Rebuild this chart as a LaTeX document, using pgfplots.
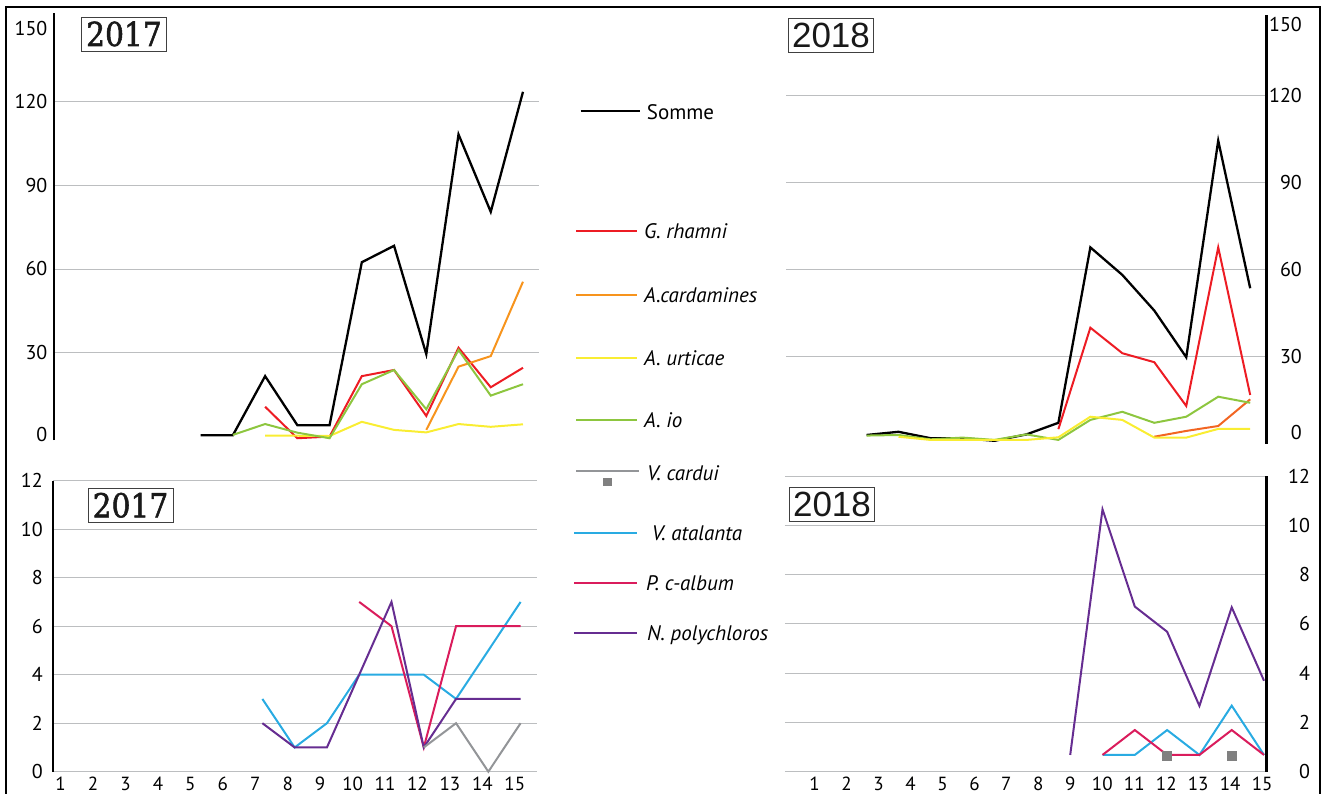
\documentclass[border=0pt]{standalone}
\usepackage{pgfplots}
\pgfplotsset{compat=1.18}
\usepackage{fontspec}
\setmainfont{PT Sans}
\newfontfamily\serifyear[FakeBold=1.6, FakeStretch=0.9]{DejaVu Serif}
\newfontfamily\sansyear{Liberation Sans}
\definecolor{rhamni}{HTML}{ED1C24}
\definecolor{cardA}{HTML}{F7941D}
\definecolor{cardB}{HTML}{F26522}
\definecolor{urticae}{HTML}{F9ED32}
\definecolor{io}{HTML}{8DC63F}
\definecolor{cardui}{HTML}{939598}
\definecolor{cardmark}{HTML}{808080}
\definecolor{atalanta}{HTML}{29ABE2}
\definecolor{calbum}{HTML}{DA1C5C}
\definecolor{poly}{HTML}{662D91}
\definecolor{gridgray}{HTML}{BCBEC0}
\definecolor{boxline}{HTML}{404040}
\pgfplotsset{
  panel/.style={scale only axis, clip=false, axis line style={draw=none},
    tick style={draw=none}, major tick length=0pt, ymajorgrids,
    grid style={line width=0.8pt, color=gridgray},
    tick label style={font=\fontsize{20}{24}\selectfont, inner sep=0pt},
    every axis plot/.append style={line width=2pt}},
}
\begin{document}
\begin{tikzpicture}
\path[use as bounding box] (0pt,0pt) rectangle (1323pt,794pt);
% outer frame
\draw[line width=2pt] (6.4pt,-5pt) -- (6.4pt,787.3pt) -- (1320pt,787.3pt) -- (1320pt,-5pt);

% ---------------- top left 2017 ----------------
\begin{axis}[panel, at={(54pt,353.8pt)}, anchor=south west, width=485.1pt, height=427.2pt,
  xmin=0.45, xmax=15.5, ymin=-1.5, ymax=151.9, xtick=\empty,
  ytick={30,60,90,120}, yticklabels={30,60,90,120},
  extra y ticks={0.4,146.5}, extra y tick labels={0,150}, extra y tick style={grid=none},
  yticklabel style={anchor=east, xshift=-6.5pt}]
\draw[line width=2.5pt] (rel axis cs:0,0) -- (rel axis cs:0,1);
\addplot[black, line width=2.3pt] coordinates {(5,0.3)(6,0.3)(7,21.5)(8,3.9)(9,3.9)(10,62.4)(11,68.3)(12,29.4)(13,108.3)(14,80.5)(15,123.6)};
\addplot[rhamni] coordinates {(7,10.5)(8,-0.8)(9,-0.2)(10,21.5)(11,23.7)(12,7.2)(13,31.7)(14,17.5)(15,24.5)};
\addplot[cardA] coordinates {(12,2.2)(13,24.9)(14,28.7)(15,55.4)};
\addplot[urticae] coordinates {(7,0.1)(8,0.1)(9,0)(10,5.1)(11,2.2)(12,1.3)(13,4.3)(14,3.3)(15,4.2)};
\addplot[io] coordinates {(6,0.4)(7,4.3)(8,1.2)(9,-0.8)(10,18.6)(11,23.7)(12,9.6)(13,30.9)(14,14.5)(15,18.6)};
\end{axis}

% ---------------- top right 2018 ----------------
\begin{axis}[panel, at={(786pt,350.3pt)}, anchor=south west, width=480.5pt, height=428.6pt,
  xmin=0.48, xmax=15.51, ymin=0, ymax=147.8, xtick=\empty,
  ytick={30,60,90,120}, yticklabels={30,60,90,120},
  extra y ticks={3.7,144.7}, extra y tick labels={0,150}, extra y tick style={grid=none},
  yticklabel pos=right, yticklabel style={anchor=east, xshift=35.5pt}]
\draw[line width=2.5pt] (rel axis cs:1,0) -- (rel axis cs:1,1);
\addplot[black, line width=2.3pt] coordinates {(3,3.0)(4,4.1)(5,1.9)(6,1.9)(7,1.0)(8,3.2)(9,7.2)(10,67.7)(11,58.2)(12,45.9)(13,29.8)(14,104.5)(15,53.6)};
\addplot[rhamni] coordinates {(9,5.0)(10,40)(11,31.2)(12,28.1)(13,13)(14,67.7)(15,16.8)};
\addplot[cardB] coordinates {(12,2.4)(13,4.4)(14,6.1)(15,15.3)};
\addplot[io] coordinates {(3,2.8)(4,3.0)(5,1.5)(6,2.1)(7,1.3)(8,3.2)(9,1.3)(10,8.2)(11,11)(12,7.2)(13,9.3)(14,16.2)(15,14.1)};
\addplot[urticae] coordinates {(4,2.4)(5,1.3)(6,1.3)(7,1.3)(8,1.3)(9,2.2)(10,9.3)(11,8.2)(12,2.1)(13,2.1)(14,5.1)(15,5.1)};
\end{axis}

% ---------------- bottom left 2017 ----------------
\begin{axis}[panel, at={(52.9pt,22.3pt)}, anchor=south west, width=484.5pt, height=291pt,
  xmin=0.51, xmax=15.52, ymin=0, ymax=12,
  ytick={0,2,4,6,8,10,12}, yticklabels={0,2,4,6,8,10,12},
  yticklabel style={anchor=east, xshift=-10pt},
  xtick={0.75,1.755,2.76,3.765,4.77,5.775,6.78,7.785,8.79,9.795,10.8,11.805,12.81,13.815,14.82},
  xticklabels={1,2,3,4,5,6,7,8,9,10,11,12,13,14,15},
  xticklabel style={anchor=north, yshift=-5pt, font=\fontsize{19}{22}\selectfont}]
\draw[line width=2.5pt] (rel axis cs:0,0) -- (rel axis cs:0,1);
\addplot[atalanta] coordinates {(7,3)(8,1)(9,2)(10,4)(11,4)(12,4)(13,3)(14,5)(15,7)};
\addplot[calbum] coordinates {(10,7)(11,6)(12,1)(13,6)(14,6)(15,6)};
\addplot[poly] coordinates {(7,2)(8,1)(9,1)(10,4)(11,7)(12,1)(13,3)(14,3)(15,3)};
\addplot[cardui] coordinates {(12,1)(13,2)(14,0)(15,2)};
\end{axis}

% ---------------- bottom right 2018 ----------------
\begin{axis}[panel, at={(784.8pt,22.3pt)}, anchor=south west, width=481.8pt, height=295.7pt,
  xmin=0.164, xmax=15.08, ymin=0, ymax=12,
  ytick={0,2,4,6,8,10,12}, yticklabels={0,2,4,6,8,10,12},
  yticklabel pos=right, yticklabel style={anchor=east, xshift=43.5pt},
  xtick={1.087,2.077,3.066,4.056,5.045,6.035,7.025,8.014,9.004,9.993,10.983,11.973,12.962,13.952,14.941},
  xticklabels={1,2,3,4,5,6,7,8,9,10,11,12,13,14,15},
  xticklabel style={anchor=north, yshift=-5pt, font=\fontsize{19}{22}\selectfont}]
\draw[line width=2.5pt] (rel axis cs:1,0) -- (rel axis cs:1,1);
\addplot[poly] coordinates {(9,0.68)(10,10.65)(11,6.7)(12,5.68)(13,2.67)(14,6.67)(15,3.69)};
\addplot[atalanta] coordinates {(10,0.68)(11,0.68)(12,1.69)(13,0.68)(14,2.68)(15,0.68)};
\addplot[calbum] coordinates {(10,0.68)(11,1.69)(12,0.68)(13,0.68)(14,1.69)(15,0.68)};
\addplot[only marks, mark=square*, mark size=4pt, color=cardmark] coordinates {(12,0.64)(14,0.64)};
\end{axis}

% year boxes
\node[draw=boxline, line width=0.8pt, fill=white, minimum width=85pt, minimum height=34pt, inner sep=0pt,
  font=\serifyear\fontsize{33}{33}\selectfont, text=black!90] at (124pt,760pt) {2017};
\node[draw=boxline, line width=0.8pt, fill=white, minimum width=85pt, minimum height=34pt, inner sep=0pt,
  font=\sansyear\fontsize{35}{35}\selectfont, text=black!90] at (831pt,759pt) {2018};
\node[draw=boxline, line width=0.8pt, fill=white, minimum width=85pt, minimum height=34pt, inner sep=0pt,
  font=\serifyear\fontsize{33}{33}\selectfont, text=black!90] at (130.5pt,288.7pt) {2017};
\node[draw=boxline, line width=0.8pt, fill=white, minimum width=85pt, minimum height=34pt, inner sep=0pt,
  font=\sansyear\fontsize{35}{35}\selectfont, text=black!90] at (832pt,289.3pt) {2018};

% legend
\begin{scope}[every node/.style={anchor=base west, inner sep=0pt, font=\fontsize{21}{25}\selectfont}]
\draw[black, line width=2pt] (580.7pt,682.7pt) -- (640pt,682.7pt);
\node at (646.7pt,674.5pt) {Somme};
\draw[rhamni, line width=2pt] (576pt,563pt) -- (636.7pt,563pt);
\node at (644pt,555pt) {\itshape G. rhamni};
\draw[cardA, line width=2pt] (576pt,499.4pt) -- (636.7pt,499.4pt);
\node at (644pt,491.4pt) {\itshape A.cardamines};
\draw[urticae, line width=2pt] (576pt,436.3pt) -- (636.7pt,436.3pt);
\node at (644pt,428.3pt) {\itshape A. urticae};
\draw[io, line width=2pt] (576pt,374pt) -- (636.7pt,374pt);
\node at (644pt,366pt) {\itshape A. io};
\draw[cardui, line width=2pt] (576pt,323.4pt) -- (639pt,323.4pt);
\fill[cardmark] (603pt,307.8pt) rectangle (611.5pt,316.2pt);
\node at (647pt,313pt) {\itshape V. cardui};
\draw[atalanta, line width=2pt] (574pt,261pt) -- (636.7pt,261pt);
\node at (651.7pt,253pt) {\itshape V. atalanta};
\draw[calbum, line width=2pt] (574pt,211pt) -- (636.7pt,211pt);
\node at (646pt,203pt) {\itshape P. c-album};
\draw[poly, line width=2pt] (574pt,161pt) -- (636.7pt,161pt);
\node at (647pt,153pt) {\itshape N. polychloros};
\end{scope}
\end{tikzpicture}
\end{document}
